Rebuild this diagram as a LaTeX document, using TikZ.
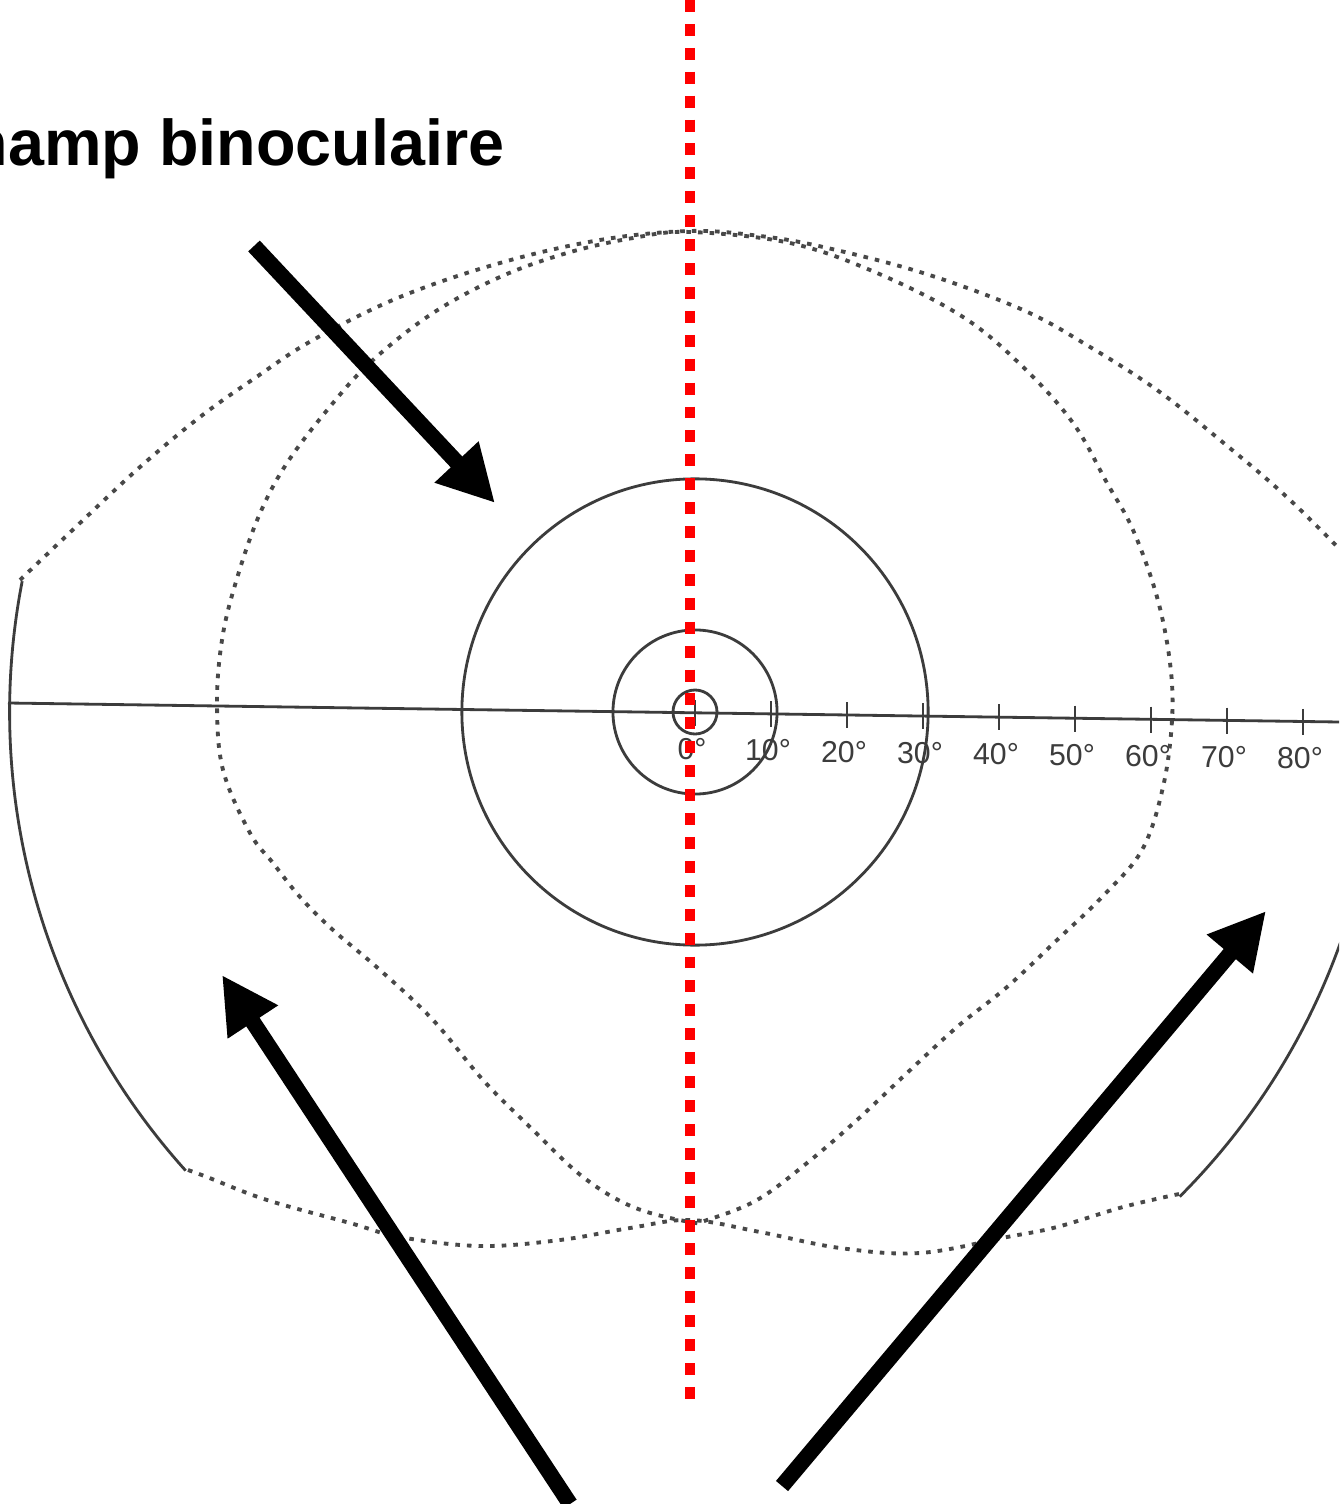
\documentclass[tikz,border=0pt]{standalone}
\usepackage{fontspec}
\setmainfont{Liberation Sans}
\setsansfont{Liberation Sans}
\usepackage{tikz}
\usetikzlibrary{arrows.meta}
\definecolor{ChampRed}{HTML}{FF0000}
\definecolor{ChampInk}{HTML}{000000}
\definecolor{ChampGrey}{HTML}{3C3C3C}
\definecolor{ChampDash}{HTML}{484848}

\begin{document}
\begin{tikzpicture}[x=0.01cm,y=-0.01cm,font=\sffamily,
    chartline/.style={ChampGrey, line width=0.8pt},
    fieldline/.style={ChampDash, line width=1.1pt, dash pattern=on 1.3pt off 2pt},
    midline/.style={ChampRed, line width=2.6pt, dash pattern=on 3.4pt off 3.4pt},
    bigarrow/.style={ChampInk, line width=4.5pt, -{Triangle[length=16pt,width=16pt]}},
    ticklabel/.style={ChampGrey, font=\sffamily\fontsize{8.6pt}{10pt}\selectfont, anchor=north, inner sep=0pt}]
    \useasboundingbox (0,0) rectangle (1339,1504);
    \clip (0,0) rectangle (1339,1504);
    \fill[white] (0,0) rectangle (1339,1504);

    \coordinate (fix) at (695,712);

    % isopteres
    \draw[chartline] (fix) circle (0.22cm);
    \draw[chartline] (fix) circle (0.82cm);
    \draw[chartline] (fix) circle (2.33cm);
    \draw[chartline] (fix) ++(169:6.85cm) arc[start angle=169, end angle=222, radius=6.85cm];
    \draw[chartline] (fix) ++(-45:6.85cm) arc[start angle=-45, end angle=11, radius=6.85cm];

    % axe horizontal et graduations
    \draw[chartline] (8,703) -- (1339,722);
    \foreach \k/\t in {0/0,1/10,2/20,3/30,4/40,5/50,6/60,7/70,8/80} {
      \draw[chartline] (695+76*\k,700+1.1*\k) -- ++(0,26);
      \node[ticklabel] (lbl\k) at (692+76*\k,738+1.1*\k) {\t°};
    }

    % champs monoculaires
    \draw[fieldline] plot[smooth, tension=0.6] coordinates {
      (20,580) (80,523) (140,467) (200,417) (255,378) (313,340) (400,297)
      (500,263) (600,240) (690,231) (760,236) (823,247) (923,273) (1023,310)
      (1090,347) (1157,390) (1220,440) (1290,500) (1370,580)};
    \draw[fieldline] plot[smooth cycle, tension=0.6] coordinates {
      (690,232) (790,243) (877,273) (963,317) (1023,367) (1073,423) (1107,483)
      (1133,530) (1157,597) (1170,663) (1172,720) (1163,787) (1142,850)
      (1102,897) (1057,940) (1007,987) (957,1027) (907,1073) (857,1120)
      (807,1163) (757,1200) (707,1220) (690,1222) (633,1207) (583,1177)
      (533,1130) (483,1080) (433,1020) (380,970) (333,930) (300,897)
      (273,863) (250,833) (223,770) (217,703) (222,640) (235,585) (258,518)
      (287,463) (333,403) (373,360) (433,313) (500,277) (567,253) (633,238)};
    \draw[fieldline] plot[smooth, tension=0.6] coordinates {
      (188,1170) (207,1177) (267,1200) (350,1223) (400,1237) (480,1246)
      (560,1240) (630,1228) (690,1220) (760,1232) (840,1248) (920,1253)
      (1007,1237) (1057,1227) (1123,1207) (1179,1194)};

    % ligne mediane
    \coordinate (midTop) at (690,0);
    \coordinate (midBot) at (690,1408);
    \draw[midline] (midTop) -- (midBot);

    \node[font=\sffamily\bfseries\fontsize{18.4pt}{22pt}\selectfont, anchor=base east, inner sep=0pt]
      (title) at (505,166) {Champ binoculaire};

    \coordinate (binoTail) at (254,246);
    \coordinate (binoTip) at (495,503);
    \coordinate (leftTail) at (570,1504);
    \coordinate (leftTip) at (222,975);
    \coordinate (rightTail) at (782,1486);
    \coordinate (rightTip) at (1266,911);
    \draw[bigarrow] (binoTail) -- (binoTip);
    \draw[bigarrow] (leftTail) -- (leftTip);
    \draw[bigarrow] (rightTail) -- (rightTip);
\end{tikzpicture}
\end{document}
